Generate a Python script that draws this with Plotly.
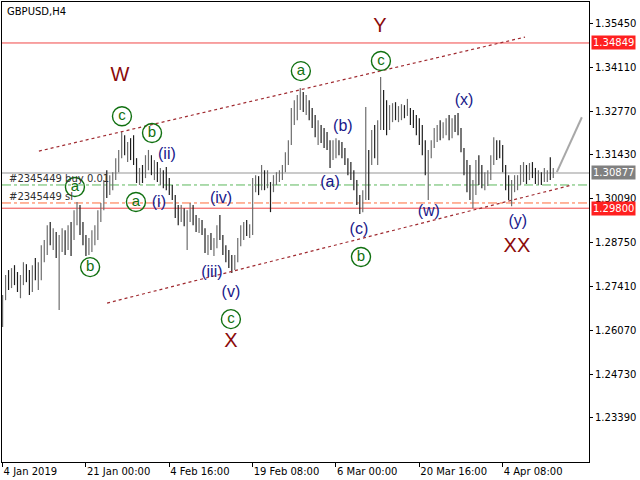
import plotly.graph_objects as go

# ---------------- data ----------------
highs = [1.2715,1.2776,1.2791,1.2797,1.2806,1.2785,1.2776,1.2815,1.2809,1.2791,
         1.2806,1.2828,1.2815,1.2867,1.2883,1.2928,1.2938,1.2919,1.2907,1.2898,
         1.2919,1.2913,1.2928,1.2938,1.2974,1.2999,1.2990,1.2938,1.2898,1.2889,
         1.2913,1.2928,1.2974,1.2996,1.3066,1.3096,1.3081,1.3090,1.3133,1.3158,
         1.3213,1.3203,1.3182,1.3194,1.3203,1.3133,1.3103,1.3112,1.3142,1.3158,
         1.3142,1.3127,1.3121,1.3103,1.3096,1.3106,1.3072,1.3051,1.3020,1.2990,
         1.2990,1.2980,1.2974,1.2996,1.2990,1.2959,1.2950,1.2944,1.2919,1.2898,
         1.2904,1.2889,1.2928,1.2959,1.2898,1.2867,1.2852,1.2837,1.2837,1.2889,
         1.2928,1.2938,1.2944,1.2931,1.3072,1.3081,1.3078,1.3112,1.3096,1.3096,
         1.3060,1.3081,1.3090,1.3096,1.3112,1.3151,1.3188,1.3286,1.3310,1.3326,
         1.3347,1.3335,1.3326,1.3310,1.3286,1.3265,1.3249,1.3234,1.3225,1.3213,
         1.3188,1.3188,1.3194,1.3188,1.3182,1.3164,1.3133,1.3121,1.3096,1.3066,
         1.3020,1.3035,1.3289,1.3158,1.3219,1.3234,1.3249,1.3381,1.3341,1.3310,
         1.3295,1.3301,1.3304,1.3292,1.3298,1.3295,1.3314,1.3286,1.3280,1.3265,
         1.3255,1.3234,1.3188,1.3158,1.3188,1.3225,1.3234,1.3249,1.3243,1.3255,
         1.3265,1.3255,1.3265,1.3271,1.3225,1.3164,1.3127,1.3112,1.3066,1.3127,
         1.3142,1.3112,1.3090,1.3096,1.3142,1.3197,1.3188,1.3188,1.3173,1.3112,
         1.3081,1.3066,1.3081,1.3081,1.3112,1.3121,1.3112,1.3118,1.3121,1.3103,
         1.3096,1.3090,1.3103,1.3096,1.3136,1.3103]
lows = [1.2617,1.2699,1.2730,1.2736,1.2745,1.2724,1.2705,1.2745,1.2754,1.2715,
        1.2724,1.2760,1.2730,1.2760,1.2815,1.2837,1.2867,1.2852,1.2828,1.2669,
        1.2846,1.2837,1.2852,1.2834,1.2883,1.2928,1.2898,1.2867,1.2834,1.2837,
        1.2846,1.2867,1.2883,1.2938,1.2974,1.3011,1.3020,1.3035,1.3066,1.3090,
        1.3133,1.3142,1.3121,1.3127,1.3112,1.3057,1.3051,1.3057,1.3072,1.3096,
        1.3081,1.3066,1.3060,1.3051,1.3041,1.3035,1.3020,1.3005,1.2950,1.2928,
        1.2938,1.2925,1.2852,1.2938,1.2928,1.2907,1.2904,1.2898,1.2843,1.2837,
        1.2852,1.2834,1.2858,1.2883,1.2837,1.2815,1.2797,1.2782,1.2791,1.2815,
        1.2864,1.2883,1.2895,1.2889,1.2898,1.3029,1.3020,1.3035,1.3035,1.3041,
        1.2968,1.3029,1.3051,1.3060,1.3066,1.3090,1.3112,1.3173,1.3234,1.3249,
        1.3280,1.3274,1.3265,1.3249,1.3225,1.3197,1.3173,1.3179,1.3164,1.3158,
        1.3103,1.3127,1.3133,1.3142,1.3133,1.3112,1.3081,1.3066,1.3035,1.2990,
        1.2962,1.2968,1.3005,1.3005,1.3112,1.3133,1.3112,1.3219,1.3219,1.3203,
        1.3219,1.3243,1.3249,1.3243,1.3249,1.3255,1.3262,1.3234,1.3225,1.3203,
        1.3173,1.3142,1.3081,1.3005,1.3133,1.3164,1.3182,1.3188,1.3194,1.3203,
        1.3188,1.3194,1.3213,1.3203,1.3151,1.3081,1.3029,1.3005,1.2980,1.3020,
        1.3051,1.3041,1.3035,1.3048,1.3066,1.3112,1.3127,1.3133,1.3090,1.3035,
        1.3005,1.2986,1.3029,1.3035,1.3051,1.3060,1.3054,1.3066,1.3072,1.3054,
        1.3051,1.3051,1.3060,1.3060,1.3066,1.3072]
closes = [1.2705,1.2760,1.2745,1.2785,1.2760,1.2736,1.2754,1.2797,1.2766,1.2730,
          1.2791,1.2776,1.2797,1.2852,1.2867,1.2907,1.2883,1.2898,1.2858,1.2883,
          1.2898,1.2852,1.2913,1.2867,1.2959,1.2980,1.2919,1.2883,1.2852,1.2876,
          1.2895,1.2919,1.2959,1.2980,1.3041,1.3029,1.3066,1.3078,1.3112,1.3142,
          1.3194,1.3158,1.3164,1.3142,1.3127,1.3072,1.3090,1.3072,1.3127,1.3133,
          1.3096,1.3112,1.3072,1.3090,1.3066,1.3060,1.3035,1.3011,1.2968,1.2959,
          1.2974,1.2950,1.2959,1.2974,1.2944,1.2928,1.2938,1.2913,1.2858,1.2883,
          1.2867,1.2876,1.2913,1.2898,1.2852,1.2837,1.2821,1.2797,1.2828,1.2867,
          1.2907,1.2919,1.2907,1.2913,1.3051,1.3060,1.3051,1.3072,1.3060,1.3078,
          1.3041,1.3066,1.3072,1.3084,1.3103,1.3133,1.3173,1.3265,1.3286,1.3310,
          1.3317,1.3295,1.3310,1.3265,1.3249,1.3219,1.3225,1.3203,1.3188,1.3173,
          1.3158,1.3164,1.3173,1.3164,1.3151,1.3127,1.3112,1.3090,1.3051,1.3005,
          1.2990,1.3020,1.3127,1.3096,1.3188,1.3158,1.3219,1.3326,1.3280,1.3249,
          1.3274,1.3280,1.3265,1.3274,1.3286,1.3274,1.3280,1.3265,1.3243,1.3234,
          1.3188,1.3164,1.3096,1.3142,1.3173,1.3203,1.3219,1.3203,1.3225,1.3234,
          1.3219,1.3243,1.3225,1.3219,1.3164,1.3103,1.3081,1.3020,1.3035,1.3096,
          1.3072,1.3060,1.3066,1.3078,1.3127,1.3173,1.3164,1.3158,1.3103,1.3060,
          1.3035,1.3051,1.3060,1.3066,1.3090,1.3096,1.3072,1.3103,1.3090,1.3072,
          1.3081,1.3066,1.3078,1.3090,1.3081,1.3087]
first_open = 1.2680
bars = list(range(len(closes)))
opens = [first_open] + closes[:-1]

tick_bars = [0, 28, 56, 84, 112, 140, 168]
tick_labels = ["4 Jan 2019", "21 Jan 00:00", "4 Feb 16:00", "19 Feb 08:00",
               "6 Mar 00:00", "20 Mar 16:00", "4 Apr 08:00"]
y_ticks = [1.35450, 1.34110, 1.32770, 1.31430, 1.30090, 1.28750,
           1.27410, 1.26070, 1.24730, 1.23390]

level_top = 1.34849
level_bottom = 1.29800
level_bid = 1.30877
level_buy = 1.3051
level_sl = 1.2996

upper_channel = ([12.2, 175.5], [1.31545, 1.35029])
lower_channel = ([35.1, 191.3], [1.2690, 1.3051])
projection = ([186.2, 194.6], [1.3090, 1.3258])

green_labels = ["a", "b", "c", "b", "a", "a", "c", "b", "c"]
green_x = [24.3, 29.4, 40.1, 50.2, 44.8, 100.2, 127.1, 120.4, 76.7]
green_y = [1.3045, 1.2800, 1.3261, 1.3210, 1.2999, 1.3399, 1.3430, 1.2831, 1.2641]

blue_labels = ["(ii)", "(i)", "(iv)", "(iii)", "(v)", "(a)", "(b)", "(c)", "(w)", "(x)", "(y)"]
blue_x = [55.2, 52.5, 73.4, 70.3, 76.7, 110.0, 114.3, 119.7, 143.2, 155.0, 173.1]
blue_y = [1.3142, 1.2996, 1.3008, 1.2782, 1.2721, 1.3057, 1.3228, 1.2913, 1.2968, 1.3307, 1.2938]

red_labels = ["W", "Y", "X", "XX"]
red_x = [39.4, 126.8, 76.7, 172.8]
red_y = [1.3384, 1.3533, 1.2571, 1.2861]

x_range = [-0.2, 197.0]
y_range = [1.22045, 1.36101]

# ---------------- figure ----------------
fig = go.Figure()

fig.add_trace(go.Ohlc(
    x=bars, open=opens, high=highs, low=lows, close=closes,
    increasing=dict(line=dict(color="#6e6e6e", width=1.2)),
    decreasing=dict(line=dict(color="#1e1e1e", width=1.2)),
    tickwidth=0, showlegend=False, hoverinfo="skip"))

def hline(y, color, dash="solid", width=1):
    fig.add_shape(type="line", xref="paper", x0=0, x1=1, yref="y", y0=y, y1=y,
                  line=dict(color=color, width=width, dash=dash), layer="below")

hline(level_top, "#f04646")
hline(level_bottom, "#f04646")
hline(level_bid, "#b8b8b8", width=1.5)
hline(level_buy, "#5cb85c", dash="dashdot")
hline(level_sl, "#ff6a3a", dash="dashdot")

for xs, ys in (upper_channel, lower_channel):
    fig.add_trace(go.Scatter(x=xs, y=ys, mode="lines",
                             line=dict(color="#a02a30", width=1.2, dash="dot"),
                             showlegend=False, hoverinfo="skip"))
fig.add_trace(go.Scatter(x=projection[0], y=projection[1], mode="lines",
                         line=dict(color="#a8a8a8", width=2),
                         showlegend=False, hoverinfo="skip"))

fig.add_trace(go.Scatter(
    x=green_x, y=green_y, text=green_labels, mode="markers+text",
    textposition="middle center",
    textfont=dict(family="Liberation Sans", size=15, color="#107010"),
    marker=dict(symbol="circle-open", size=19, color="#107010", line=dict(width=1.4)),
    showlegend=False, hoverinfo="skip"))

fig.add_trace(go.Scatter(
    x=blue_x, y=blue_y, text=blue_labels, mode="text",
    textposition="middle center",
    textfont=dict(family="Liberation Sans", size=16, color="#18188a"),
    showlegend=False, hoverinfo="skip"))

fig.add_trace(go.Scatter(
    x=red_x, y=red_y, text=red_labels, mode="text",
    textposition="middle center",
    textfont=dict(family="Liberation Sans", size=20, color="#8b0a0a"),
    showlegend=False, hoverinfo="skip"))

annotations = [
    dict(text="GBPUSD,H4", xref="paper", yref="paper", x=0.005, y=0.995,
         xanchor="left", yanchor="top", showarrow=False,
         font=dict(family="DejaVu Sans", size=10, color="#000000")),
    dict(text="#2345449 buy 0.01", xref="paper", yref="y", x=0.008, y=level_buy,
         xanchor="left", yanchor="bottom", yshift=-1, showarrow=False,
         font=dict(family="DejaVu Sans", size=10, color="#303030")),
    dict(text="#2345449 sl", xref="paper", yref="y", x=0.008, y=level_sl,
         xanchor="left", yanchor="bottom", yshift=-1, showarrow=False,
         font=dict(family="DejaVu Sans", size=10, color="#303030")),
]
for val, bg in ((level_top, "#ff2020"), (level_bid, "#808080"), (level_bottom, "#ff2020")):
    annotations.append(dict(text=f"{val:.5f}", xref="paper", yref="y", x=1, y=val,
                            xanchor="left", yanchor="middle", xshift=2, showarrow=False,
                            bgcolor=bg, borderpad=1,
                            font=dict(family="DejaVu Sans", size=10, color="#ffffff")))

fig.update_layout(
    width=640, height=480,
    margin=dict(l=2, r=51, t=2, b=18),
    paper_bgcolor="white", plot_bgcolor="white",
    showlegend=False,
    annotations=annotations,
    xaxis=dict(range=x_range, tickvals=tick_bars, ticktext=tick_labels,
               showgrid=False, zeroline=False, showline=True, mirror=True,
               linecolor="#000000", linewidth=1, ticks="outside", ticklen=4,
               tickcolor="#000000", ticklabelposition="outside right",
               tickfont=dict(family="DejaVu Sans", size=10, color="#000000"),
               rangeslider=dict(visible=False), fixedrange=True),
    yaxis=dict(range=y_range, side="right", tickvals=y_ticks,
               ticktext=[f"{v:.5f}" for v in y_ticks],
               showgrid=False, zeroline=False, showline=True, mirror=True,
               linecolor="#000000", linewidth=1, ticks="outside", ticklen=3,
               tickcolor="#000000",
               tickfont=dict(family="DejaVu Sans", size=10, color="#000000")),
)

fig.write_html("out.html", config={"displayModeBar": False},
               post_script="document.body.style.margin='0';document.body.style.overflow='hidden';")
